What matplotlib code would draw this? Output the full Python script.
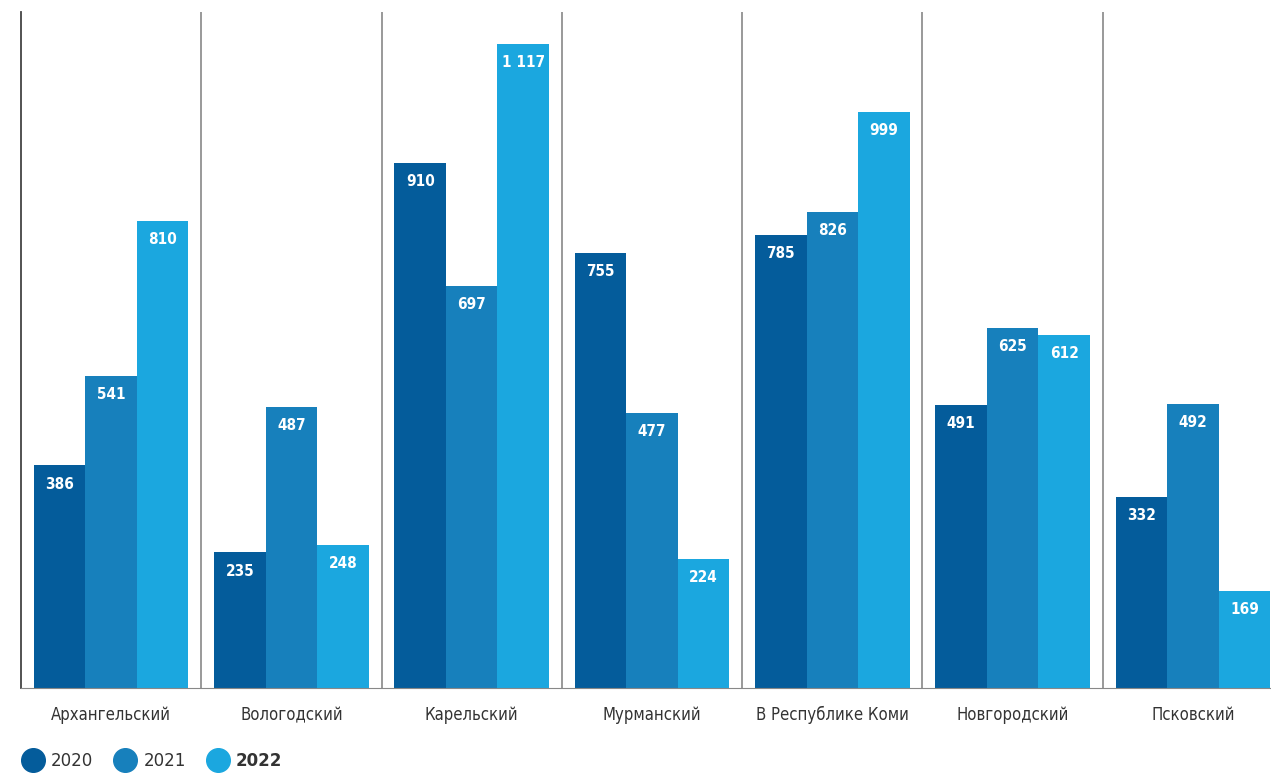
import numpy as np
import matplotlib.pyplot as plt
from matplotlib.lines import Line2D

regions = ["Архангельский", "Вологодский", "Карельский", "Мурманский",
           "В Республике Коми", "Новгородский", "Псковский"]
years = ["2020", "2021", "2022"]
v2020 = [386, 235, 910, 755, 785, 491, 332]
v2021 = [541, 487, 697, 477, 826, 625, 492]
v2022 = [810, 248, 1117, 224, 999, 612, 169]
colors = ["#045c9b", "#1780bc", "#1ba7df"]

plt.rcParams['font.family'] = ['DejaVu Sans']

fig = plt.figure(figsize=(12.71, 7.73), dpi=100)
ax = fig.add_axes([21 / 1271, 85 / 773, 1250 / 1271, 676 / 773])

x = np.arange(len(regions))
w = 2 / 7
for k, vals in enumerate([v2020, v2021, v2022]):
    bars = ax.bar(x + (k - 1) * w, vals, width=w, color=colors[k], zorder=2)
    for b, v in zip(bars, vals):
        ax.annotate(f"{v:,}".replace(",", " "),
                    (b.get_x() + b.get_width() / 2, b.get_height()),
                    xytext=(0, -13.5), textcoords="offset points",
                    ha="center", va="center", color="white",
                    fontsize=11, fontweight="bold", fontstretch="condensed")

for s in x[1:]:
    ax.axvline(s - 0.5, color="#888888", lw=1.2, zorder=1)

ax.set_xlim(-0.5, 6.433)
ax.set_ylim(0, 1172)
ax.set_yticks([])
ax.set_xticks(x)
ax.set_xticklabels(regions, fontsize=12, color="#333333", fontstretch="condensed")
ax.tick_params(axis="x", length=0, pad=13)
for side in ["top", "right"]:
    ax.spines[side].set_visible(False)
ax.spines["left"].set_color("#444444")
ax.spines["left"].set_linewidth(1.3)
ax.spines["bottom"].set_color("#888888")

handles = [Line2D([], [], marker="o", ls="", markersize=17, color=c) for c in colors]
leg = fig.legend(handles, years, loc="center left", bbox_to_anchor=(0.018, 12 / 773),
                 ncol=3, frameon=False, fontsize=12, handletextpad=0.5,
                 columnspacing=1.3, handlelength=1.2, borderpad=0, borderaxespad=0)
for t in leg.get_texts():
    t.set_color("#333333")
leg.get_texts()[2].set_fontweight("bold")

fig.savefig("out.png", dpi=100)
